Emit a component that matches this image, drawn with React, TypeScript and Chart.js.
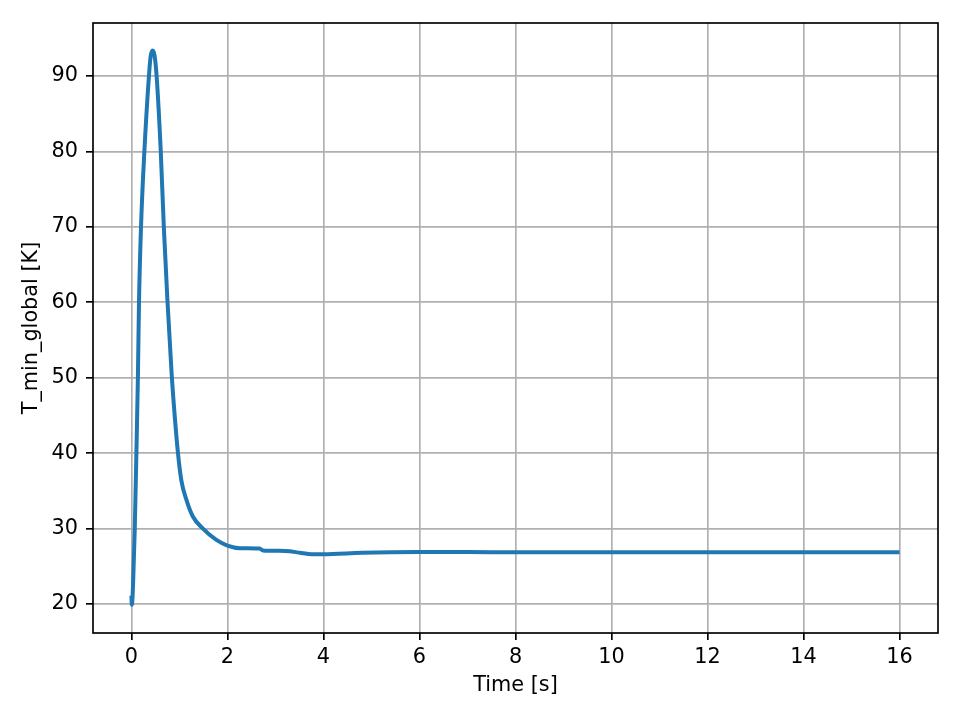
import React, { useEffect, useRef } from "react";
import { Chart, registerables } from "chart.js";

Chart.register(...registerables);

const timeS = [
  0, 0.01, 0.035, 0.07, 0.105, 0.135, 0.158, 0.2, 0.27, 0.365, 0.4, 0.44, 0.48,
  0.525, 0.61, 0.675, 0.75, 0.84, 0.91, 0.97, 1.04, 1.146, 1.28, 1.49, 1.77,
  2.0, 2.26, 2.67, 2.74, 3.08, 3.3, 3.45, 3.8, 4.0, 4.8, 6.0, 7.0, 8.0, 10.0,
  12.0, 14.0, 16.0,
];
const tMinK = [
  21.1, 19.9, 22.7, 30.0, 40.4, 50.0, 60.0, 70.0, 80.0, 90.0, 92.6, 93.4, 92.8,
  90.0, 80.2, 70.0, 60.3, 50.3, 44.3, 40.0, 36.4, 33.8, 31.6, 30.0, 28.5,
  27.75, 27.4, 27.35, 27.1, 27.05, 27.0, 26.85, 26.6, 26.6, 26.8, 26.9, 26.9,
  26.85, 26.85, 26.85, 26.85, 26.85,
];
const xTicks = [0, 2, 4, 6, 8, 10, 12, 14, 16];
const yTicks = [20, 30, 40, 50, 60, 70, 80, 90];

const FONT = { family: "'DejaVu Sans', sans-serif", size: 20.8 };

export default function App() {
  const ref = useRef<HTMLCanvasElement>(null);
  useEffect(() => {
    document.body.style.margin = "0";
    const spines = {
      id: "spines",
      afterDraw(chart: any) {
        const { left, top, right, bottom } = chart.chartArea;
        const ctx = chart.ctx;
        ctx.save();
        ctx.strokeStyle = "#000";
        ctx.lineWidth = 1.67;
        ctx.strokeRect(left, top, right - left, bottom - top);
        ctx.restore();
      },
    };
    const grid = {
      color: "#b0b0b0",
      lineWidth: 1.67,
      tickColor: "#000",
      tickLength: 7,
      tickWidth: 1.67,
      drawTicks: true,
    };
    const chart = new Chart(ref.current as HTMLCanvasElement, {
      type: "scatter",
      data: {
        datasets: [
          {
            data: timeS.map((t, i) => ({ x: t, y: tMinK[i] })),
            showLine: true,
            borderColor: "#1f77b4",
            backgroundColor: "#1f77b4",
            borderWidth: 4,
            pointRadius: 0,
            cubicInterpolationMode: "monotone",
            fill: false,
          } as any,
        ],
      },
      options: {
        responsive: false,
        animation: false,
        layout: { padding: { left: 0, top: 23, right: 22, bottom: 0 } },
        plugins: { legend: { display: false }, tooltip: { enabled: false } },
        scales: {
          x: {
            type: "linear",
            min: -0.8,
            max: 16.8,
            afterBuildTicks: (s: any) => {
              s.ticks = xTicks.map((v) => ({ value: v }));
            },
            afterFit: (s: any) => {
              s.height = 87;
            },
            grid,
            border: { display: false },
            ticks: { font: FONT, color: "#000", padding: 5, maxRotation: 0 },
            title: {
              display: true,
              text: "Time [s]",
              font: FONT,
              color: "#000",
              padding: { top: 0, bottom: 22 },
            },
          },
          y: {
            type: "linear",
            min: 16.16,
            max: 97.03,
            afterBuildTicks: (s: any) => {
              s.ticks = yTicks.map((v) => ({ value: v }));
            },
            afterFit: (s: any) => {
              s.width = 93;
            },
            grid,
            border: { display: false },
            ticks: { font: FONT, color: "#000", padding: 8 },
            title: {
              display: true,
              text: "T_min_global [K]",
              font: FONT,
              color: "#000",
              padding: { top: 19, bottom: 0 },
            },
          },
        },
      } as any,
      plugins: [spines],
    });
    return () => chart.destroy();
  }, []);
  return (
    <canvas
      ref={ref}
      width={960}
      height={720}
      style={{ display: "block", width: 960, height: 720 }}
    />
  );
}
